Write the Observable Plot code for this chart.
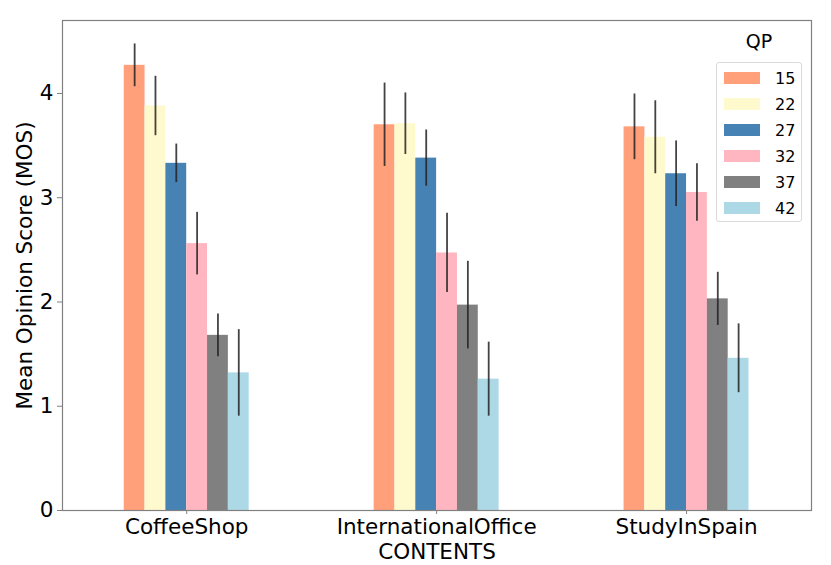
<!DOCTYPE html>
<html>
<head>
<meta charset="utf-8">
<script src="https://cdn.jsdelivr.net/npm/d3@7"></script>
<script src="https://cdn.jsdelivr.net/npm/@observablehq/plot@0.6"></script>
<style>
  html, body { margin: 0; padding: 0; background: #fff; }
  #wrap { position: relative; width: 831px; height: 565px; font-family: "DejaVu Sans", sans-serif; }
  #legendTitle { position: absolute; left: 719px; width: 80px; top: 30px; text-align: center; font-size: 19px; color: #000; }
  #legend { position: absolute; left: 716px; top: 62px; width: 86px; height: 160px; border: 1px solid #d9d9d9; border-radius: 3px; background: rgba(255,255,255,0.85); box-sizing: border-box; }
  .row { position: absolute; left: 7px; height: 26px; display: flex; align-items: center; }
  .sw { width: 36px; height: 12px; margin-right: 15px; }
  .lab { font-size: 16px; color: #000; }
</style>
</head>
<body>
<div id="wrap"></div>
<script>
const categories = ["CoffeeShop", "InternationalOffice", "StudyInSpain"];
const qpLevels = ["15", "22", "27", "32", "37", "42"];
const qpColors = ["#FFA07A", "#FFFACD", "#4682B4", "#FFB6C1", "#808080", "#ADD8E6"];
const yTicks = [0, 1, 2, 3, 4];

const mosCoffeeShop = [4.27, 3.88, 3.33, 2.56, 1.68, 1.32];
const errCoffeeShop = [0.205, 0.285, 0.185, 0.30, 0.205, 0.415];
const mosInternationalOffice = [3.70, 3.71, 3.38, 2.47, 1.97, 1.26];
const errInternationalOffice = [0.40, 0.295, 0.27, 0.38, 0.42, 0.355];
const mosStudyInSpain = [3.68, 3.58, 3.23, 3.05, 2.03, 1.46];
const errStudyInSpain = [0.315, 0.35, 0.315, 0.275, 0.255, 0.33];

const mosAll = [mosCoffeeShop, mosInternationalOffice, mosStudyInSpain];
const errAll = [errCoffeeShop, errInternationalOffice, errStudyInSpain];

const groupWidth = 0.5;
const barW = groupWidth / qpLevels.length;
const rows = [];
categories.forEach((c, ci) => {
  qpLevels.forEach((q, k) => {
    const x1 = ci - groupWidth / 2 + k * barW;
    rows.push({content: c, qp: q, x1, x2: x1 + barW, xc: x1 + barW / 2,
               mos: mosAll[ci][k], err: errAll[ci][k]});
  });
});

const chart = Plot.plot({
  width: 831,
  height: 565,
  marginLeft: 62,
  marginRight: 20,
  marginTop: 20,
  marginBottom: 55,
  style: {fontFamily: "DejaVu Sans, sans-serif", color: "#000", background: "#fff"},
  x: {domain: [-0.497, 2.5]},
  y: {domain: [0, 4.70]},
  color: {domain: qpLevels, range: qpColors},
  marks: [
    Plot.rectY(rows, {x1: "x1", x2: "x2", y: "mos", fill: "qp", inset: 0}),
    Plot.ruleX(rows, {x: "xc", y1: d => d.mos - d.err, y2: d => d.mos + d.err, stroke: "#222", strokeWidth: 1.8, strokeOpacity: 0.85}),
    Plot.frame({stroke: "#808080", strokeWidth: 1.2}),
    Plot.axisY({ticks: yTicks, tickFormat: d => String(d), tickSize: 5, tickPadding: 4, fontSize: 21.5, stroke: "#808080",
                label: "Mean Opinion Score (MOS)", labelAnchor: "center", labelArrow: "none", labelOffset: 46}),
    Plot.axisX({ticks: [0, 1, 2], tickFormat: i => categories[i], tickSize: 4, tickPadding: 4, fontSize: 21.5, stroke: "#808080",
                label: "CONTENTS", labelAnchor: "center", labelArrow: "none", labelOffset: 48})
  ]
});

const wrap = document.getElementById("wrap");
wrap.appendChild(chart);

const title = document.createElement("div");
title.id = "legendTitle";
title.textContent = "QP";
wrap.appendChild(title);

const legend = document.createElement("div");
legend.id = "legend";
qpLevels.forEach((q, k) => {
  const row = document.createElement("div");
  row.className = "row";
  row.style.top = (2 + k * 26) + "px";
  const sw = document.createElement("div");
  sw.className = "sw";
  sw.style.background = qpColors[k];
  const lab = document.createElement("span");
  lab.className = "lab";
  lab.textContent = q;
  row.appendChild(sw);
  row.appendChild(lab);
  legend.appendChild(row);
});
wrap.appendChild(legend);
</script>
</body>
</html>
